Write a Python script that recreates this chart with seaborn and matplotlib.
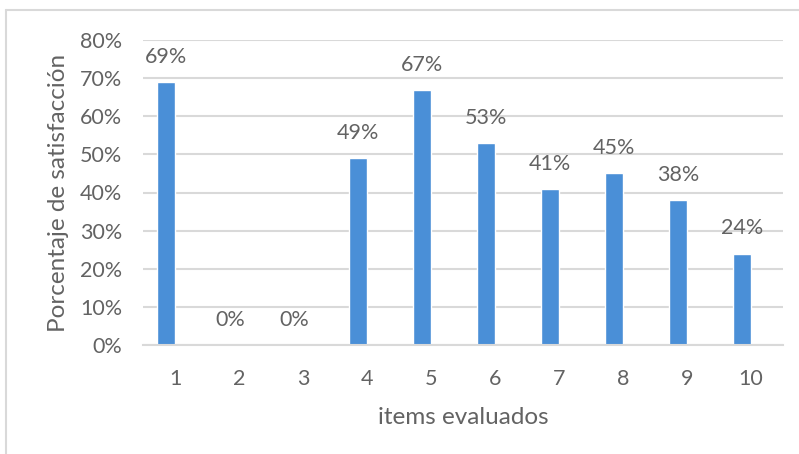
import matplotlib
matplotlib.use("Agg")
import matplotlib.pyplot as plt
import seaborn as sns
import pandas as pd
import numpy as np
from matplotlib.lines import Line2D

categories = ["1", "2", "3", "4", "5", "6", "7", "8", "9", "10"]
values = [0.69, 0.00, 0.00, 0.49, 0.67, 0.53, 0.41, 0.45, 0.38, 0.24]
y_ticks = [0.0, 0.1, 0.2, 0.3, 0.4, 0.5, 0.6, 0.7, 0.8]
y_tick_labels = ["0%", "10%", "20%", "30%", "40%", "50%", "60%", "70%", "80%"]
x_label = "items evaluados"
y_label = "Porcentaje de satisfacción"

sns.set_theme(style="white")
plt.rcParams["font.family"] = ["Lato", "DejaVu Sans"]

TEXT = "#636363"
BAR = "#4a8fd7"
GRID = "#d9d9d9"

df = pd.DataFrame({
    "item": categories * 2,
    "valor": values + [np.nan] * len(values),
    "serie": ["s1"] * len(values) + ["s2"] * len(values),
})

fig = plt.figure(figsize=(7.99, 4.54), dpi=100)
ax = fig.add_axes([143 / 799, 1 - 345 / 454, 640 / 799, 305 / 454])

sns.barplot(data=df, x="item", y="valor", hue="serie", hue_order=["s1", "s2"],
            order=categories, palette=[BAR, BAR], width=0.56, dodge=True,
            saturation=1, legend=False, ax=ax, errorbar=None)

ax.set_ylim(0, 0.8)
ax.set_xlim(-0.5, len(categories) - 0.5)
ax.set_yticks(y_ticks)
ax.set_yticklabels(y_tick_labels)
ax.yaxis.grid(True, color=GRID, linewidth=1.5)
ax.set_axisbelow(True)
for s in ["top", "right", "left"]:
    ax.spines[s].set_visible(False)
ax.spines["bottom"].set_color(GRID)
ax.spines["bottom"].set_linewidth(1.5)
ax.tick_params(axis="both", length=0, labelsize=15.5, colors=TEXT)
ax.tick_params(axis="y", pad=15)
ax.tick_params(axis="x", pad=17)
ax.set_xlabel(x_label, fontsize=17.5, color=TEXT, labelpad=13)
ax.set_ylabel(y_label, fontsize=17.5, color=TEXT, labelpad=8)

for i, v in enumerate(values):
    xc = i - 0.14
    ax.annotate(f"{round(v * 100):.0f}%", xy=(xc, v), xytext=(0, 18),
                textcoords="offset points", ha="center", va="center",
                fontsize=15.5, color=TEXT)

# chart border
fig.add_artist(Line2D([6 / 799, 1.0], [1 - 10 / 454, 1 - 10 / 454],
                      transform=fig.transFigure, color=GRID, linewidth=1.5))
fig.add_artist(Line2D([6 / 799, 6 / 799], [0.0, 1 - 10 / 454],
                      transform=fig.transFigure, color=GRID, linewidth=1.5))

fig.savefig("out.png", dpi=100)
